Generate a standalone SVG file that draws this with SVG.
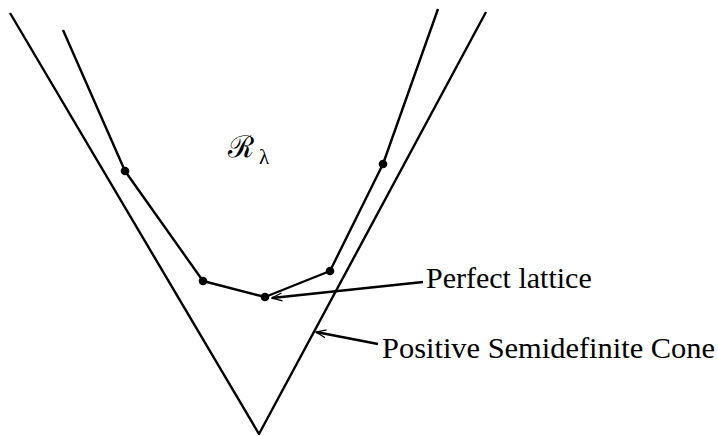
<svg xmlns="http://www.w3.org/2000/svg" width="718" height="436" viewBox="0 0 718 436">
<style>
.ln{fill:none;stroke:#000;stroke-width:2.4;stroke-linejoin:round;stroke-linecap:butt}
.ar{fill:none;stroke:#000;stroke-width:2.4}
.dot{fill:#000}
.lbl{font-family:"Liberation Serif","Times New Roman",serif;font-size:30px;fill:#000}
</style>
<defs>
<marker id="arr" markerWidth="12" markerHeight="10" refX="11" refY="5" orient="auto" markerUnits="userSpaceOnUse" viewBox="0 0 12 10">
<path d="M1,1 L11,5 L1,9" fill="none" stroke="#000" stroke-width="1.3"/>
</marker>
</defs>
<g id="cone">
<polyline class="ln" points="10,13 259,434 486,12"/>
</g>
<g id="region">
<polyline class="ln" points="63,30 125,171 203,281 265,297 330,271 383,164 438,9"/>
</g>
<g id="lattice-points">
<circle class="dot" cx="125" cy="171" r="4.3"/>
<circle class="dot" cx="203" cy="281" r="4.3"/>
<circle class="dot" cx="265" cy="297" r="4.3"/>
<circle class="dot" cx="330" cy="271" r="4.3"/>
<circle class="dot" cx="383" cy="164" r="4.3"/>
</g>
<g id="connectors">
<line class="ar" x1="423" y1="282" x2="272" y2="298" marker-end="url(#arr)"/>
<line class="ar" x1="378" y1="344" x2="316" y2="332" marker-end="url(#arr)"/>
</g>
<g id="label-region">
<text x="228" y="157" style="font-family:'DejaVu Serif','Noto Sans',serif;font-size:30px">ℛ</text>
<text x="259" y="164" style="font-family:'Liberation Serif',serif;font-size:21px">λ</text>
</g>
<g id="label-perfect">
<text class="lbl" x="426" y="288">Perfect lattice</text>
</g>
<g id="label-cone">
<text class="lbl" x="382" y="358" textLength="333" lengthAdjust="spacingAndGlyphs">Positive Semidefinite Cone</text>
</g>
</svg>
